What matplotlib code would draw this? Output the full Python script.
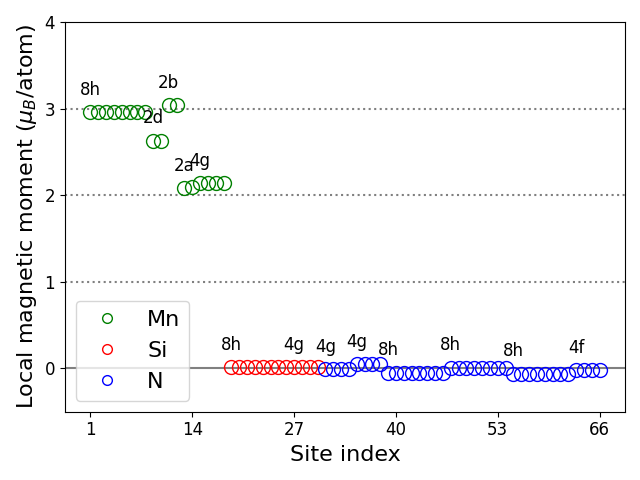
import matplotlib.pyplot as plt
import numpy as np

# magnetic moments per site (mu_B/atom)
mn_moment = [2.96] * 8 + [2.63, 2.63] + [3.04, 3.04] + [2.08, 2.10] + [2.14] * 4
si_moment = [0.015] * 8 + [0.015] * 4
n_moment = [-0.01] * 4 + [0.05] * 4 + [-0.05] * 8 + [0.01] * 8 + [-0.06] * 8 + [-0.02] * 4

mn_sites = np.arange(1, 19)
si_sites = np.arange(19, 31)
n_sites = np.arange(31, 67)

# Wyckoff labels: (first site of group, label)
wyckoff_labels = [(1, '8h'), (9, '2d'), (11, '2b'), (13, '2a'), (15, '4g'),
                  (19, '8h'), (27, '4g'),
                  (31, '4g'), (35, '4g'), (39, '8h'), (47, '8h'), (55, '8h'), (63, '4f')]

xticks = [1, 14, 27, 40, 53, 66]

fig, ax = plt.subplots(figsize=(6.4, 4.8))

for yv in [1, 2, 3]:
    ax.axhline(yv, color='gray', linestyle=':', linewidth=1.5)
ax.axhline(0, color='gray', linewidth=1.5)

ax.plot(mn_sites, mn_moment, 'o', mfc='none', mec='green', ms=10, label='Mn')
ax.plot(si_sites, si_moment, 'o', mfc='none', mec='red', ms=10, label='Si')
ax.plot(n_sites, n_moment, 'o', mfc='none', mec='blue', ms=10, label='N')

all_moment = mn_moment + si_moment + n_moment
for site, lab in wyckoff_labels:
    ax.text(site, all_moment[site - 1] + 0.26, lab, ha='center', va='center', fontsize=12)

ax.set_xticks(xticks)
ax.set_yticks([0, 1, 2, 3, 4])
ax.set_ylim(-0.5, 4)
ax.tick_params(labelsize=12)
ax.set_xlabel('Site index', fontsize=16)
ax.set_ylabel(r'Local magnetic moment ($\mu_B$/atom)', fontsize=16)
ax.legend(loc='lower left', fontsize=16, markerscale=0.7)

plt.tight_layout()
plt.savefig('out.png', dpi=100)
plt.close()
